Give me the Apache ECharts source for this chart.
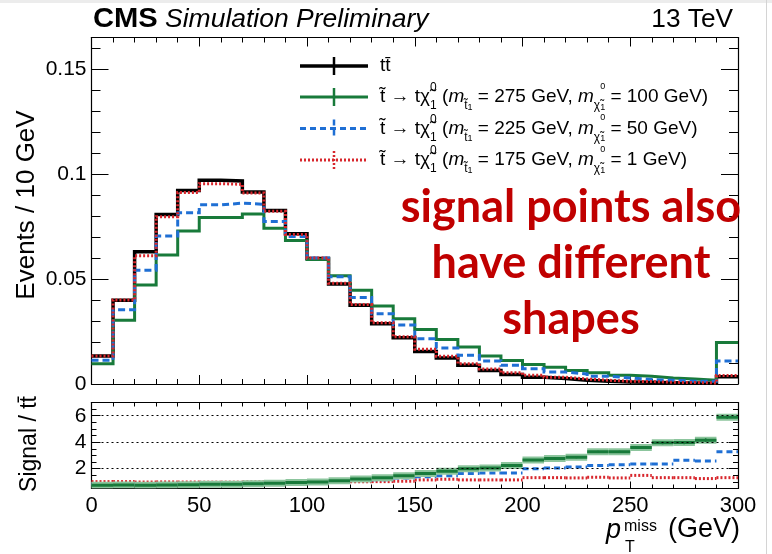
<!DOCTYPE html>
<html><head><meta charset="utf-8">
<script src="https://cdn.jsdelivr.net/npm/echarts@6/dist/echarts.min.js"></script>
<style>html,body{margin:0;padding:0;background:#fff}#c{width:772px;height:554px}</style>
</head><body><div id="c"></div>
<script>
// ---- data (bin edges in GeV, 10 GeV bins; last bin holds overflow) ----
const binEdges = [0,10,20,30,40,50,60,70,80,90,100,110,120,130,140,150,160,170,180,190,200,210,220,230,240,250,260,270,280,290,300];
const ttbar  = [0.0133,0.0399,0.0630,0.0807,0.0922,0.0970,0.0967,0.0914,0.0826,0.0715,0.0598,0.0476,0.0375,0.0287,0.0220,0.0155,0.0124,0.0089,0.0064,0.0045,0.0032,0.0026,0.0018,0.0013,0.0010,0.0008,0.0006,0.0005,0.0004,0.0034];
const sig275 = [0.0096,0.0303,0.0471,0.0614,0.0729,0.0793,0.0793,0.0810,0.0742,0.0683,0.0593,0.0515,0.0447,0.0372,0.0311,0.0260,0.0212,0.0176,0.0133,0.0112,0.0093,0.0080,0.0064,0.0053,0.0042,0.0037,0.0029,0.0024,0.0018,0.0198];
const sig225 = [0.0113,0.0353,0.0542,0.0705,0.0815,0.0853,0.0861,0.0856,0.0774,0.0702,0.0600,0.0511,0.0412,0.0335,0.0281,0.0215,0.0172,0.0137,0.0109,0.0089,0.0073,0.0057,0.0048,0.0037,0.0029,0.0021,0.0018,0.0013,0.0013,0.0109];
const sig175 = [0.0133,0.0400,0.0611,0.0797,0.0912,0.0954,0.0951,0.0910,0.0823,0.0712,0.0600,0.0480,0.0378,0.0292,0.0225,0.0165,0.0132,0.0097,0.0071,0.0053,0.0042,0.0032,0.0024,0.0018,0.0013,0.0012,0.0008,0.0007,0.0005,0.0040];
const ratio275 = [0.75,0.76,0.75,0.76,0.79,0.82,0.82,0.86,0.90,0.95,1.00,1.08,1.22,1.32,1.47,1.63,1.80,2.00,2.05,2.24,2.66,2.76,2.86,3.27,3.27,3.59,3.95,3.97,4.15,5.88];
const ratio275Err = [0.02,0.02,0.02,0.02,0.02,0.02,0.02,0.02,0.02,0.02,0.02,0.03,0.03,0.04,0.04,0.05,0.05,0.06,0.06,0.07,0.07,0.08,0.08,0.09,0.09,0.10,0.11,0.12,0.14,0.10];
const ratio225 = [0.85,0.88,0.86,0.87,0.88,0.88,0.89,0.93,0.94,0.98,1.00,1.05,1.10,1.17,1.30,1.39,1.46,1.63,1.68,1.68,2.00,2.05,2.12,2.24,2.29,2.36,2.36,2.63,2.58,3.27];
const ratio175 = [1.02,1.02,0.99,1.00,0.99,0.98,0.98,1.00,1.00,1.00,1.00,1.01,1.01,1.02,1.05,1.15,1.20,1.15,1.15,1.15,1.32,1.32,1.30,1.35,1.30,1.49,1.32,1.32,1.25,1.32];
const xTickLabels = [0,50,100,150,200,250,300];
const mainTickLabels = [0,0.05,0.1,0.15];
const ratioTickLabels = [2,4,6];

const FONT = "'Liberation Sans', Arial, Helvetica, sans-serif";
const GREEN = '#187a3a', BLUE = '#1f6fd4', RED = '#d8262c';

function stepPoints(vals){
  const pts=[];
  vals.forEach((v,i)=>{pts.push([binEdges[i],v]);pts.push([binEdges[i+1],v]);});
  return pts;
}
function mainLine(name, vals, color, width, dash){
  return {name, type:'line', xAxisIndex:0, yAxisIndex:0, data:stepPoints(vals),
    showSymbol:false, symbol:'none', clip:true, silent:true,
    lineStyle:{color, width, type:dash||'solid', cap:'butt', join:'miter'}};
}
function ratioSeries(name, vals, errs, color, width, dash, halo){
  return {name, type:'custom', xAxisIndex:2, yAxisIndex:4, clip:true, silent:true,
    data: vals.map((v,i)=>[binEdges[i], binEdges[i+1], v, errs?errs[i]:0]),
    encode:{x:[0,1], y:2},
    renderItem:(params, api)=>{
      const x0=api.value(0), x1=api.value(1), v=api.value(2), e=api.value(3);
      const p0=api.coord([x0,v]), p1=api.coord([x1,v]);
      const ch=[];
      if(halo) ch.push({type:'line', shape:{x1:p0[0],y1:p0[1],x2:p1[0],y2:p1[1]}, style:{stroke:halo, lineWidth:7}});
      ch.push({type:'line', shape:{x1:p0[0],y1:p0[1],x2:p1[0],y2:p1[1]}, style:{stroke:color, lineWidth:width, lineDash:dash||null}});
      if(e>0){
        const c=(x0+x1)/2, a=api.coord([c,v-e]), b=api.coord([c,v+e]);
        ch.push({type:'line', shape:{x1:a[0],y1:a[1],x2:b[0],y2:b[1]}, style:{stroke:color, lineWidth:1.5}});
      }
      return {type:'group', children:ch};
    }};
}

const axLine = {show:true, onZero:false, lineStyle:{color:'#000', width:1.2}};
function xAx(grid, pos, labels, major, minor){
  return {type:'value', gridIndex:grid, position:pos, min:0, max:300, interval:50,
    axisLine:axLine,
    axisTick:{show:true, inside:true, length:major, lineStyle:{color:'#000'}},
    minorTick:{show:true, splitNumber:5, length:minor, lineStyle:{color:'#000'}},
    splitLine:{show:false}, minorSplitLine:{show:false},
    axisLabel:{show:labels, color:'#000', fontFamily:FONT, fontSize:22, margin:6,
      formatter:v=>xTickLabels.includes(v)?String(v):''}};
}
function yAx(grid, pos, min, max, interval, len, opts){
  return Object.assign({type:'value', gridIndex:grid, position:pos, min, max, interval,
    axisLine:{show:false, onZero:false},
    axisTick:{show:true, inside:true, length:len, lineStyle:{color:'#000'}},
    splitLine:{show:false},
    axisLabel:{show:false}}, opts||{});
}

const chart = echarts.init(document.getElementById('c'), null, {renderer:'canvas'});
const legendRich = {
  n:{fontFamily:FONT, fontSize:19, color:'#000', lineHeight:30},
  it:{fontFamily:FONT, fontSize:19, fontStyle:'italic', color:'#000', lineHeight:30},
  sup0:{fontFamily:FONT, fontSize:12, color:'#000', lineHeight:14, verticalAlign:'top', width:0.01},
  sub:{fontFamily:FONT, fontSize:12, color:'#000', lineHeight:18, verticalAlign:'bottom'},
  ssup:{fontFamily:FONT, fontSize:9, color:'#000', lineHeight:22, verticalAlign:'top', width:0.01},
  ss:{fontFamily:FONT, fontSize:9, color:'#000', lineHeight:10, verticalAlign:'bottom'}
};
function sigLabel(mt, mx){
  return '{n|t\u0303 \u2192 t\u03c7\u0303}{sup0|0}{sub|1}{n| (}{it|m}{sub|t\u0303}{ss|1}{n| = '+mt+' GeV, }{it|m}{sub|\u03c7\u0303}{ssup|0}{ss|1}{n| = '+mx+' GeV)}';
}
const legendRows = [
  {y:66, color:'#000', width:3.5, dash:null, text:'{n|tt\u0304}'},
  {y:97, color:GREEN, width:3, dash:null, text:sigLabel(275,100)},
  {y:128.5, color:BLUE, width:3, dash:[6,4], text:sigLabel(225,50)},
  {y:160, color:RED, width:3, dash:[2,2], text:sigLabel(175,1)}
];
const graphics = [];
legendRows.forEach(r=>{
  graphics.push({type:'line', shape:{x1:300,y1:r.y,x2:368,y2:r.y}, style:{stroke:r.color, lineWidth:r.width, lineDash:r.dash}});
  graphics.push({type:'line', shape:{x1:334,y1:r.y-9,x2:334,y2:r.y+9}, style:{stroke:r.color, lineWidth:2.5, lineDash:r.dash}});
  graphics.push({type:'text', x:380, y:r.y, style:{text:r.text, rich:legendRich, align:'left', verticalAlign:'middle'}});
});
// header
graphics.push({type:'text', x:93, y:20, scaleX:1.08, style:{text:'CMS', font:'bold 27px '+FONT, fill:'#000', align:'left', verticalAlign:'middle'}});
graphics.push({type:'text', x:165, y:20, scaleX:1.06, style:{text:'Simulation Preliminary', font:'italic 25px '+FONT, fill:'#000', align:'left', verticalAlign:'middle'}});
graphics.push({type:'text', x:733, y:20, scaleX:1.05, style:{text:'13 TeV', font:'25px '+FONT, fill:'#000', align:'right', verticalAlign:'middle'}});
// axis titles
graphics.push({type:'text', x:27, y:205, rotation:Math.PI/2, style:{text:'Events / 10 GeV', font:'26px '+FONT, fill:'#000', align:'center', verticalAlign:'middle'}});
graphics.push({type:'text', x:30, y:444, rotation:Math.PI/2, style:{text:'Signal / tt\u0304', font:'23px '+FONT, fill:'#000', align:'center', verticalAlign:'middle'}});
graphics.push({type:'text', x:606, y:530, style:{text:'p', font:'italic 27px '+FONT, fill:'#000', align:'left', verticalAlign:'middle'}});
graphics.push({type:'text', x:624, y:527, style:{text:'miss', font:'16px '+FONT, fill:'#000', align:'left', verticalAlign:'middle'}});
graphics.push({type:'text', x:625, y:548, style:{text:'T', font:'16px '+FONT, fill:'#000', align:'left', verticalAlign:'middle'}});
graphics.push({type:'text', x:740, y:530, style:{text:'(GeV)', font:'27px '+FONT, fill:'#000', align:'right', verticalAlign:'middle'}});
// annotation
const ANN = "'Lato', 'Open Sans', sans-serif";
[['signal points also',207],['have different',263],['shapes',319]].forEach(t=>{
  graphics.push({type:'text', x:571, y:t[1], z:100, style:{text:t[0], font:'bold 45px '+ANN, fill:'#c00000', align:'center', verticalAlign:'middle'}});
});
// screenshot border
graphics.push({type:'rect', shape:{x:0,y:0,width:772,height:3}, style:{fill:'#ececec'}});
graphics.push({type:'line', shape:{x1:766.5,y1:0,x2:766.5,y2:554}, style:{stroke:'#d4d4d4', lineWidth:1}});

const option = {
  animation:false,
  backgroundColor:'#fff',
  grid:[
    {left:91.5, top:37.5, width:646.5, height:346.5, show:false},
    {left:91.5, top:402.5, width:646.5, height:86, show:false}
  ],
  xAxis:[
    xAx(0,'bottom',false,9,5),
    xAx(0,'top',false,9,5),
    xAx(1,'bottom',true,7,4),
    xAx(1,'top',false,7,4)
  ],
  yAxis:[
    yAx(0,'left',0,0.165,0.05,17,{axisLine:axLine,
      axisLabel:{show:true, showMaxLabel:false, color:'#000', fontFamily:FONT, fontSize:21, margin:5,
        formatter:v=>{const r=+v.toFixed(3); return mainTickLabels.includes(r)?String(r):'';}}}),
    yAx(0,'left',0,0.165,0.01,9),
    yAx(0,'right',0,0.165,0.05,17,{axisLine:axLine}),
    yAx(0,'right',0,0.165,0.01,9),
    yAx(1,'left',0.5,7,0.5,5,{axisLine:axLine,
      axisLabel:{show:true, color:'#000', fontFamily:FONT, fontSize:21, margin:5,
        formatter:v=>ratioTickLabels.includes(v)?String(v):''}}),
    yAx(1,'left',0.5,7,0.5,9,{axisTick:{show:true, inside:true, length:9, customValues:ratioTickLabels, lineStyle:{color:'#000'}}}),
    yAx(1,'right',0.5,7,0.5,5,{axisLine:axLine}),
    yAx(1,'right',0.5,7,0.5,9,{axisTick:{show:true, inside:true, length:9, customValues:ratioTickLabels, lineStyle:{color:'#000'}}})
  ],
  series:[
    mainLine('ttbar', ttbar, '#000', 3.5),
    mainLine('275', sig275, GREEN, 3),
    mainLine('225', sig225, BLUE, 3, [7,4]),
    mainLine('175', sig175, RED, 3, [2,2]),
    ratioSeries('r175', ratio175, null, RED, 3, [2,2]),
    ratioSeries('r225', ratio225, null, BLUE, 3, [6,4]),
    ratioSeries('r275', ratio275, ratio275Err, GREEN, 3, null, '#8cc59d'),
    {type:'line', xAxisIndex:2, yAxisIndex:4, data:[], silent:true,
      markLine:{silent:true, symbol:'none', label:{show:false},
        lineStyle:{color:'#000', type:[2,3], width:1},
        data:ratioTickLabels.map(v=>({yAxis:v}))}}
  ],
  graphic:graphics
};
chart.setOption(option);
</script>
</body></html>
